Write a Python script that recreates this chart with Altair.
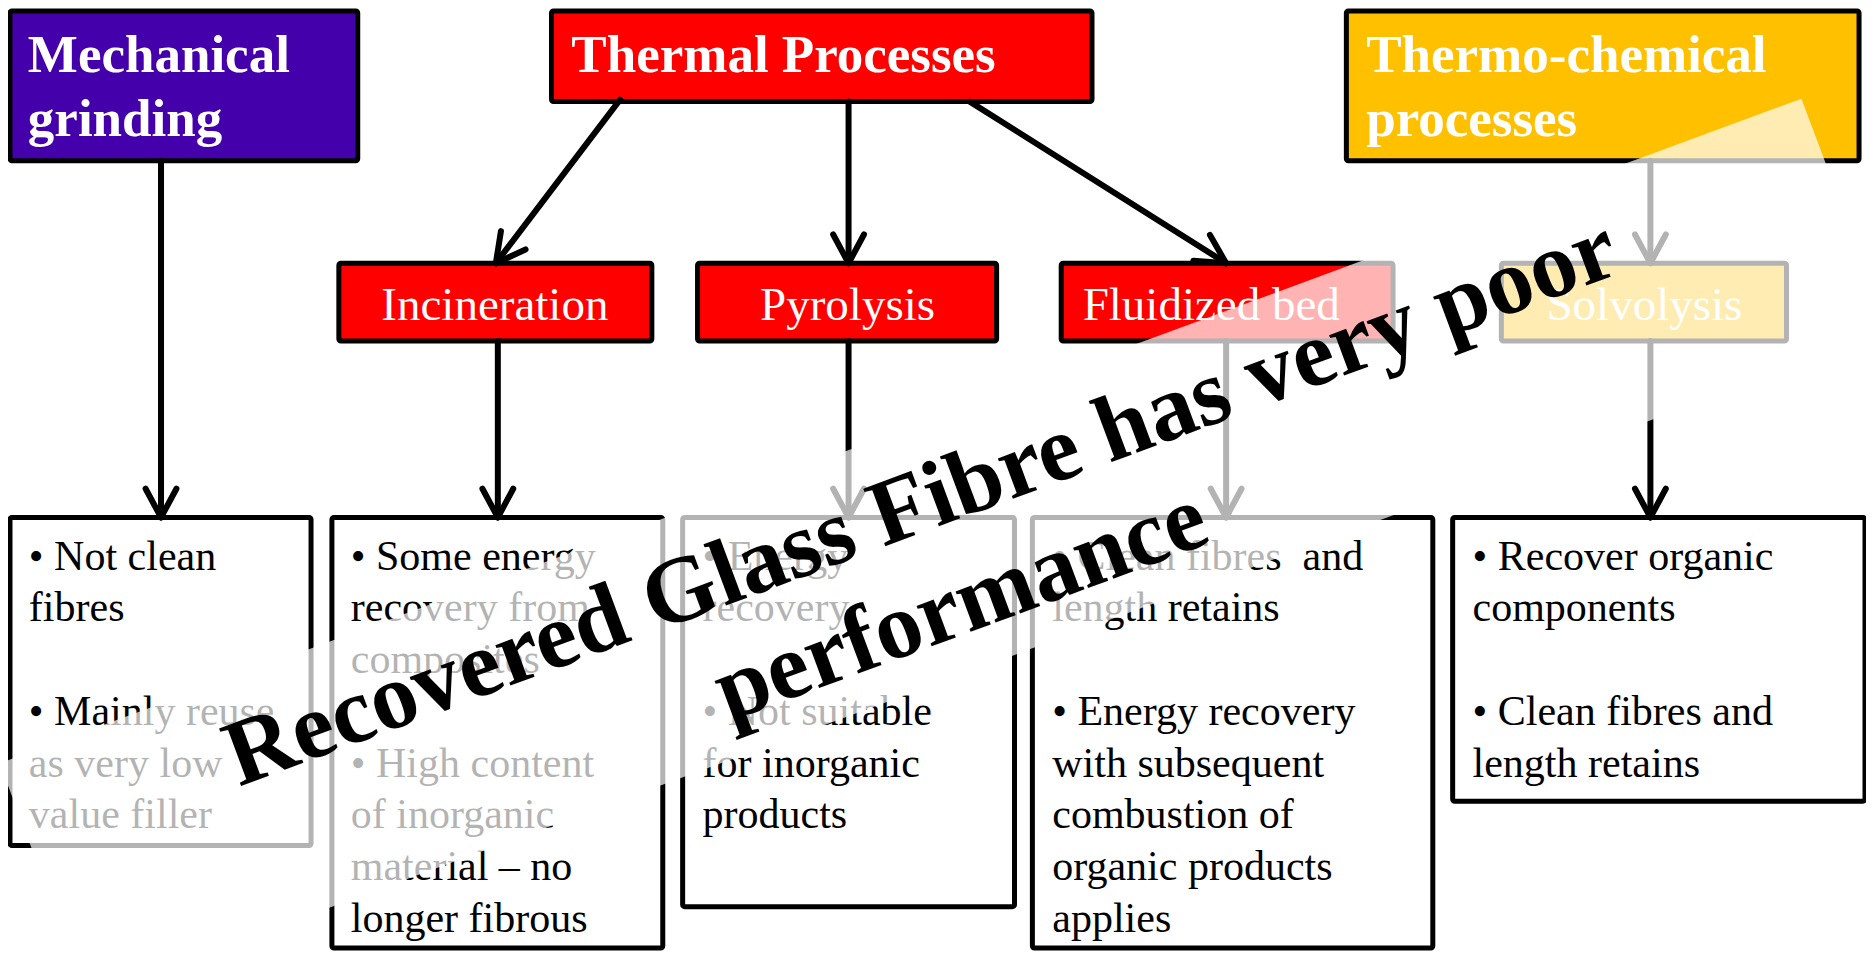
import math
import altair as alt
import pandas as pd

# ---------------- data ----------------
XDOM = [2, 1872]
YDOM = [3, 960]

# boxes (page-pixel coordinates of the original slide)
box_id = ["mech", "thermal", "thermochem", "incin", "pyro", "fluid", "solvo",
          "r1", "r2", "r3", "r4", "r5"]
box_x1 = [4, 549, 1349, 335, 696, 1062, 1505, 4, 328, 681, 1033, 1456]
box_x2 = [354, 1093, 1865, 650, 997, 1396, 1792, 307, 661, 1015, 1436, 1871]
box_y1 = [6, 6, 6, 262, 262, 262, 262, 520, 520, 520, 520, 520]
box_y2 = [158, 98, 158, 341, 341, 341, 341, 853, 957, 915, 957, 808]
box_fill = ["#4400aa", "#ff0000", "#ffc000", "#ff0000", "#ff0000", "#ff0000",
            "#ffc000", "#ffffff", "#ffffff", "#ffffff", "#ffffff", "#ffffff"]

head_text = ["Mechanical\ngrinding", "Thermal Processes", "Thermo-chemical\nprocesses"]
head_x = [22, 569, 1369]
head_y = [68, 68, 68]

sub_text = ["Incineration", "Pyrolysis", "Fluidized bed", "Solvolysis"]
sub_x = [492, 847, 1213, 1649]
sub_y = [320, 320, 320, 320]

res_text = [
    "• Not clean\nfibres\n\n• Mainly reuse\nas very low\nvalue filler",
    "• Some energy\nrecovery from\ncomposites\n\n• High content\nof inorganic\nmaterial – no\nlonger fibrous",
    "• Energy\nrecovery\n\n• Not suitable\nfor inorganic\nproducts",
    "• Clean fibres \u00a0and\nlength retains\n\n• Energy recovery\nwith subsequent\ncombustion of\norganic products\napplies",
    "• Recover organic\ncomponents\n\n• Clean fibres and\nlength retains",
]
res_x = [23, 347, 701, 1053, 1476]
res_y = [573, 573, 573, 573, 573]

# arrows: start -> tip
arr_x1 = [156, 618, 848, 970, 1655, 495, 848, 1228, 1655]
arr_y1 = [158, 96, 98, 98, 158, 341, 341, 341, 341]
arr_x2 = [156, 493, 848, 1228, 1655, 495, 848, 1228, 1655]
arr_y2 = [520, 262, 262, 262, 262, 520, 520, 520, 520]

# translucent white band (corners of rotated rectangle, sorted by x)
band_x = [-6.4, 82.0, 1807.0, 1895.3]
band_top = [769.5, 736.6, 95.0, 332.0]
band_bot = [769.5, 1006.6, 364.9, 332.0]

over_text = ["Recovered Glass Fibre has very poor", "performance"]
over_x = [931, 971]
over_y = [532, 636]

# ---------------- build ----------------
W, H = 1858, 943
xs = alt.Scale(domain=XDOM, nice=False, zero=False)
ys = alt.Scale(domain=YDOM, nice=False, zero=False, reverse=True)
FONT = "Liberation Serif"
RES_LH = 52.5

boxes = pd.DataFrame({"id": box_id, "x": box_x1, "x2": box_x2,
                      "y": box_y1, "y2": box_y2, "fill": box_fill})
rects = alt.Chart(boxes).mark_rect(stroke="black", strokeWidth=5, cornerRadius=2).encode(
    x=alt.X("x:Q", scale=xs, axis=None), x2="x2:Q",
    y=alt.Y("y:Q", scale=ys, axis=None), y2="y2:Q",
    fill=alt.Fill("fill:N", scale=None),
)

# arrow segments (shaft + two head arms)
L, ang = 33.0, math.radians(28)
seg = []
for a, b, c, d in zip(arr_x1, arr_y1, arr_x2, arr_y2):
    seg.append((a, b, c, d))
    ln = math.hypot(c - a, d - b)
    ux, uy = (c - a) / ln, (d - b) / ln
    for s in (1, -1):
        ca, sa = math.cos(s * ang), math.sin(s * ang)
        rx, ry = ux * ca - uy * sa, ux * sa + uy * ca
        seg.append((c - L * rx, d - L * ry, c, d))
segs = pd.DataFrame(seg, columns=["x", "y", "x2", "y2"])
arrows = alt.Chart(segs).mark_rule(color="black", strokeWidth=6, strokeCap="round").encode(
    x=alt.X("x:Q", scale=xs, axis=None), x2="x2:Q",
    y=alt.Y("y:Q", scale=ys, axis=None), y2="y2:Q",
)

heads = alt.Chart(pd.DataFrame({"t": head_text, "x": head_x, "y": head_y})).mark_text(
    font=FONT, fontSize=53, fontWeight="bold", color="white", align="left",
    baseline="alphabetic", lineBreak="\n", lineHeight=64,
).encode(x=alt.X("x:Q", scale=xs, axis=None), y=alt.Y("y:Q", scale=ys, axis=None), text="t:N")

subs = alt.Chart(pd.DataFrame({"t": sub_text, "x": sub_x, "y": sub_y})).mark_text(
    font=FONT, fontSize=47, color="white", align="center", baseline="alphabetic",
).encode(x=alt.X("x:Q", scale=xs, axis=None), y=alt.Y("y:Q", scale=ys, axis=None), text="t:N")

# one row per text line (blank lines keep their slot)
rows = []
for t, x0, y0 in zip(res_text, res_x, res_y):
    for i, line in enumerate(t.split("\n")):
        if line:
            rows.append({"t": line, "x": x0, "y": y0 + i * RES_LH})
res = alt.Chart(pd.DataFrame(rows)).mark_text(
    font=FONT, fontSize=42, color="black", align="left", baseline="alphabetic",
).encode(x=alt.X("x:Q", scale=xs, axis=None), y=alt.Y("y:Q", scale=ys, axis=None), text="t:N")

band = alt.Chart(pd.DataFrame({"x": band_x, "y": band_top, "y2": band_bot})).mark_area(
    color="white", opacity=0.7, interpolate="linear",
).encode(x=alt.X("x:Q", scale=xs, axis=None), y=alt.Y("y:Q", scale=ys, axis=None), y2="y2:Q")

over = alt.Chart(pd.DataFrame({"t": over_text, "x": over_x, "y": over_y})).mark_text(
    font=FONT, fontSize=94, fontWeight="bold", color="black", align="center",
    baseline="alphabetic", angle=339.6,
).encode(x=alt.X("x:Q", scale=xs, axis=None), y=alt.Y("y:Q", scale=ys, axis=None), text="t:N")

chart = alt.layer(rects, arrows, heads, subs, res, band, over).properties(
    width=W, height=H, padding=0, autosize=alt.AutoSizeParams(type="none"),
    background="white",
).configure_view(stroke=None)

chart.save("out.html", embed_options={"renderer": "svg", "actions": False})
